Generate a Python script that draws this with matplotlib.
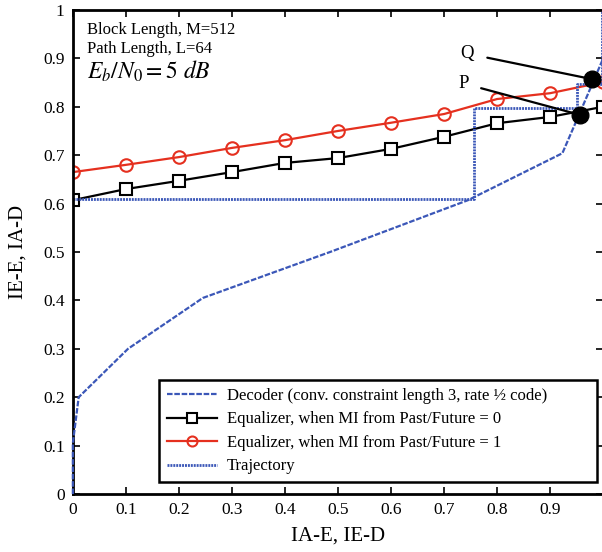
import matplotlib
matplotlib.use("Agg")
import matplotlib.pyplot as plt

plt.rcParams['font.family'] = ['Liberation Serif', 'DejaVu Serif']
plt.rcParams['mathtext.fontset'] = 'stix'

# decoder EXIT curve (axes swapped)
dec_x = [0.0, 0.0, 0.011, 0.104, 0.245, 0.485, 0.745, 0.923, 0.957, 1.0]
dec_y = [0.0, 0.105, 0.2, 0.3, 0.405, 0.5, 0.607, 0.704, 0.79, 0.9]

ia = [0.0, 0.1, 0.2, 0.3, 0.4, 0.5, 0.6, 0.7, 0.8, 0.9, 1.0]
eq0 = [0.607, 0.630, 0.647, 0.665, 0.684, 0.694, 0.713, 0.738, 0.766, 0.779, 0.800]
eq1 = [0.665, 0.680, 0.696, 0.715, 0.731, 0.750, 0.767, 0.785, 0.816, 0.828, 0.851]

traj_x = [0.0, 0.757, 0.757, 0.951, 0.951, 0.998, 0.998]
traj_y = [0.61, 0.61, 0.797, 0.797, 0.847, 0.847, 1.0]

pt_p = (0.957, 0.783)
pt_q = (0.979, 0.857)

blue = '#3b57b8'
red = '#e5301f'

fig = plt.figure(figsize=(6.02, 5.52), dpi=100)
ax = fig.add_axes([0.121, 0.105, 0.881, 0.877])

ax.plot(dec_x, dec_y, '--', color=blue, lw=1.6, dashes=(2.5, 0.8),
        zorder=3, clip_on=False,
        label='Decoder (conv. constraint length 3, rate ½ code)')
ax.plot(ia, eq0, '-s', color='black', lw=1.6, ms=9, mfc='white', mec='black',
        mew=1.5, label='Equalizer, when MI from Past/Future = 0')
ax.plot(ia, eq1, '-o', color=red, lw=1.6, ms=9, mfc='none', mec=red,
        mew=1.5, label='Equalizer, when MI from Past/Future = 1')
ax.plot(traj_x, traj_y, ':', color=blue, lw=2.0, dashes=(0.7, 0.35),
        label='Trajectory')

ax.plot(*pt_p, 'o', color='black', ms=12, zorder=5)
ax.plot(*pt_q, 'o', color='black', ms=12, zorder=5)
ax.annotate('P', xy=pt_p, xytext=(0.737, 0.848), fontsize=13.5,
            ha='center', va='center',
            arrowprops=dict(arrowstyle='-', color='black', lw=1.6,
                            shrinkA=7, shrinkB=0))
ax.annotate('Q', xy=pt_q, xytext=(0.743, 0.91), fontsize=13.5,
            ha='center', va='center',
            arrowprops=dict(arrowstyle='-', color='black', lw=1.6,
                            shrinkA=8, shrinkB=0))

ax.text(0.027, 0.958, 'Block Length, M=512', fontsize=12, va='center')
ax.text(0.027, 0.92, 'Path Length, L=64', fontsize=12, va='center')
ax.text(0.027, 0.874, r'$E_b/N_0 = 5\ dB$', fontsize=17, va='center')

ax.set_xlim(0, 1)
ax.set_ylim(0, 1)
ax.set_xticks([0, 0.1, 0.2, 0.3, 0.4, 0.5, 0.6, 0.7, 0.8, 0.9])
ax.set_xticklabels(['0', '0.1', '0.2', '0.3', '0.4', '0.5', '0.6', '0.7', '0.8', '0.9'])
ax.set_yticks([0, 0.1, 0.2, 0.3, 0.4, 0.5, 0.6, 0.7, 0.8, 0.9, 1.0])
ax.set_yticklabels(['0', '0.1', '0.2', '0.3', '0.4', '0.5', '0.6', '0.7', '0.8', '0.9', '1'])
ax.tick_params(direction='in', top=True, right=True, length=5, width=1.2,
               labelsize=12.5, pad=6)
for s in ax.spines.values():
    s.set_linewidth(2)

ax.set_xlabel('IA-E, IE-D', fontsize=15, labelpad=6)
ax.set_ylabel('IE-E, IA-D', fontsize=15, labelpad=11)

leg = ax.legend(loc='lower left', bbox_to_anchor=(0.163, 0.025, 0.826, 0.22),
                mode='expand', fontsize=12, fancybox=False, framealpha=1,
                edgecolor='black', handlelength=3.0, handletextpad=0.6,
                borderaxespad=0, labelspacing=0.45, borderpad=0.45,
                markerscale=0.8)
leg.get_frame().set_linewidth(1.8)
leg.set_zorder(6)

fig.savefig('out.png', dpi=100)
